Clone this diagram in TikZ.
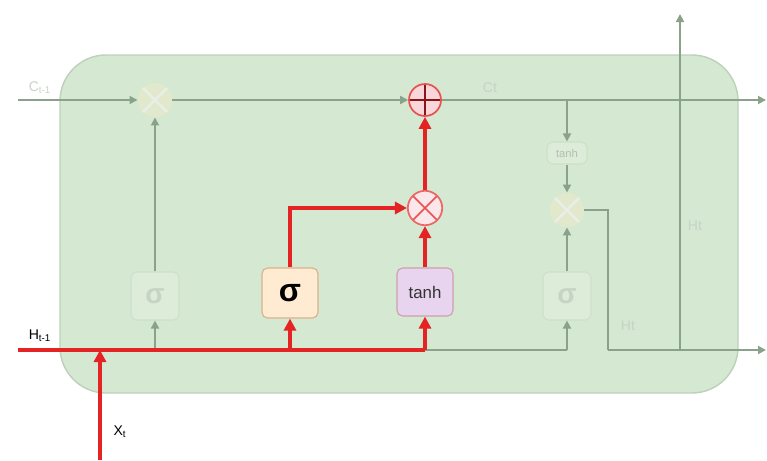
\documentclass[tikz,border=0pt]{standalone}
\usepackage{fontspec}
\setmainfont{Liberation Sans}
\usetikzlibrary{positioning,arrows.meta,calc}
\definecolor{cellgreen}{RGB}{212,232,210}
\definecolor{celledge}{RGB}{188,210,186}
\definecolor{linegray}{RGB}{138,162,138}
\definecolor{flowred}{RGB}{228,36,36}
\definecolor{fadetext}{RGB}{198,212,198}
\definecolor{fadefill}{RGB}{220,236,216}
\definecolor{fadeedge}{RGB}{204,224,202}
\definecolor{fademul}{RGB}{226,232,204}
\definecolor{sigfill}{RGB}{255,234,210}
\definecolor{tanhfill}{RGB}{232,212,238}
\definecolor{opfill}{RGB}{248,214,218}
\tikzset{
  flowline/.style={line width=1.3pt, linegray},
  flowarrow/.style={flowline, -{Triangle[length=2mm, width=2mm]}},
  redline/.style={line width=2.2pt, flowred},
  redarrow/.style={redline, -{Triangle[length=3mm, width=3mm]}},
  gatebox/.style={draw, rounded corners=4pt, line width=0.8pt, inner sep=0pt,
    minimum width=14mm, minimum height=12.5mm},
  sigbox/.style={gatebox, fill=sigfill, draw=brown!60, font=\bfseries\fontsize{23}{25}\selectfont},
  tanhbox/.style={gatebox, fill=tanhfill, draw=brown!50!violet!50, minimum height=12mm,
    text=black!80, font=\fontsize{12}{14}\selectfont},
  fadebox/.style={gatebox, fill=fadefill, draw=fadeedge, text=fadetext,
    minimum width=12mm, minimum height=12mm, font=\bfseries\fontsize{20}{22}\selectfont},
  fadetanh/.style={gatebox, fill=fadefill, draw=fadeedge, text=fadetext!90!black,
    minimum width=10mm, minimum height=5.5mm, font=\fontsize{8}{9}\selectfont},
  mulop/.style={circle, inner sep=0pt, minimum size=8.6mm,
    path picture={\draw[#1] (path picture bounding box.north west) -- (path picture bounding box.south east)
      (path picture bounding box.north east) -- (path picture bounding box.south west);}},
  addop/.style={circle, inner sep=0pt, minimum size=8mm,
    path picture={\draw[#1] (path picture bounding box.north) -- (path picture bounding box.south)
      (path picture bounding box.west) -- (path picture bounding box.east);}},
  lbl/.style={font=\fontsize{10}{12}\selectfont, inner sep=1pt},
  fadelbl/.style={lbl, text=fadetext},
}

\begin{document}
\begin{tikzpicture}[x=0.025cm, y=-0.025cm]
  \useasboundingbox (0,0) rectangle (767,460);
  % Zellkoerper
  \draw[fill=cellgreen, draw=celledge, line width=1pt, rounded corners=1.15cm] (60,55) rectangle (738,393);
  % Enden
  \coordinate (cin) at (18,100);
  \coordinate (cout) at (766,100);
  \coordinate (hin) at (18,350);
  \coordinate (hout) at (766,350);
  \coordinate (xin) at (100,460);
  \coordinate (hup) at (680,14);
  \coordinate (obend) at (608,208);
  \coordinate (hjoin) at (680,350);
  % Vergessen (blass)
  \node[mulop={fadetext!40!white, line width=1.6pt}, fill=fademul] (fmul) at (155,100) {};
  \node[fadebox] (fsig) at (155,296) {σ};
  % Eingang
  \node[addop={flowred!60!black, line width=1.2pt}, fill=opfill, draw=flowred!80, line width=1.2pt] (add) at (425,100) {};
  \node[mulop={flowred!80, line width=1.2pt}, fill=opfill!60, draw=flowred!70, line width=1.2pt] (imul) at (425,208) {};
  \node[sigbox] (isig) at (290,293) {σ};
  \node[tanhbox] (itanh) at (425,292) {tanh};
  % Ausgang (blass)
  \node[fadetanh] (otanh) at (567,153) {tanh};
  \node[mulop={fadetext!40!white, line width=1.6pt}, fill=fademul] (omul) at (567,210) {};
  \node[fadebox] (osig) at (567,296) {σ};
  % Beschriftungen
  \node[fadelbl] (clast) at (40,88) {C\textsubscript{t-1}};
  \node[fadelbl] (cnow) at (490,88) {Ct};
  \node[lbl] (hlast) at (40,336) {H\textsubscript{t-1}};
  \node[lbl] (xnow) at (120,432) {X\textsubscript{t}};
  \node[fadelbl] (hnow) at (695,226) {Ht};
  \node[fadelbl] (hnow2) at (628,326) {Ht};
  % Zellzustand
  \draw[flowarrow] (cin) -- (fmul);
  \draw[flowarrow] (fmul) -- (add);
  \draw[flowarrow] (add) -- (cout);
  \draw[flowarrow] (fsig) -- (fmul);
  % Ausgangszweig
  \draw[flowarrow] (otanh.north |- cout) -- (otanh);
  \draw[flowarrow] (otanh) -- (omul);
  \draw[flowarrow] (osig) -- (omul);
  \draw[flowline] (omul) -| (obend |- hout);
  \draw[flowarrow] (obend |- hout) -- (hout);
  \draw[flowarrow] (hjoin) -- (hup);
  % verborgener Zustand
  \draw[flowline] (itanh.south |- hin) -- (osig.south |- hin);
  \foreach \n in {fsig,osig} \draw[flowarrow] (\n.south |- hin) -- (\n.south);
  \draw[redline] (hin) -- (itanh.south |- hin);
  \foreach \n in {isig,itanh} \draw[redarrow] (\n.south |- hin) -- (\n.south);
  \draw[redarrow] (xin) -- (xin |- hin);
  % Eingangstor
  \draw[redarrow] (isig.north) |- (imul);
  \draw[redarrow] (itanh) -- (imul);
  \draw[redarrow] (imul) -- (add);
\end{tikzpicture}
\end{document}
